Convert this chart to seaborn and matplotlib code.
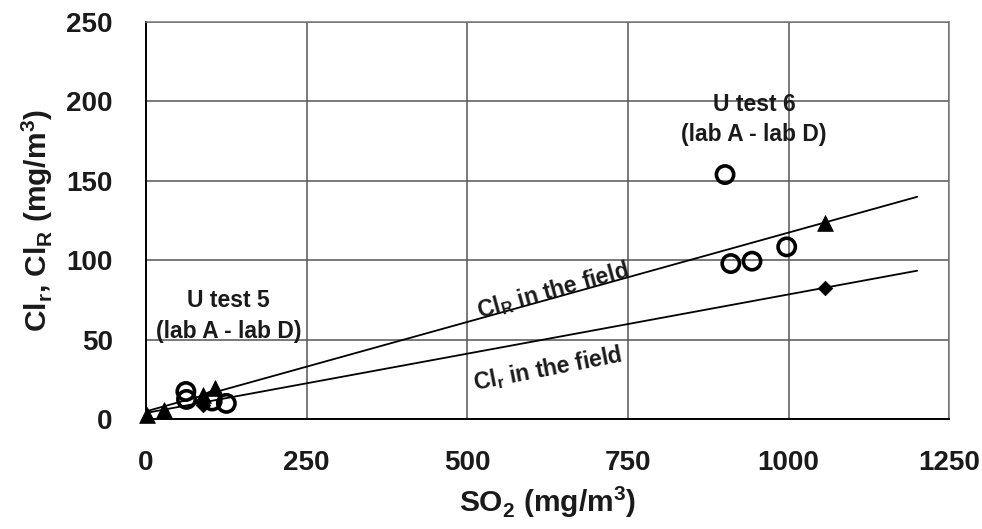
import matplotlib
matplotlib.use("Agg")
import matplotlib.pyplot as plt
import pandas as pd
import seaborn as sns

# open circles: lab A - lab D measurements
circ_x = [62, 63, 103, 125, 901, 910, 943, 997]
circ_y = [17.5, 12.5, 11.5, 10, 154, 98, 99.5, 108.5]
# filled triangles: Cl_R in the field
tri_x = [2, 28, 88, 107, 1056]
tri_y = [3, 6, 15, 19.5, 123.5]
# filled diamonds: Cl_r in the field
dia_x = [89, 1056]
dia_y = [9, 82.5]
# fitted lines
fit_x = [0, 1200]
fitR_y = [5, 140]
fitr_y = [4, 93.5]

xticks = [0, 250, 500, 750, 1000, 1250]
yticks = [0, 50, 100, 150, 200, 250]

sns.set_theme(style="white")
plt.rcParams['font.family'] = ['Liberation Sans', 'DejaVu Sans']
plt.rcParams['font.weight'] = 'bold'

fig = plt.figure(figsize=(9.82, 5.29), dpi=100)
ax = fig.add_axes([0.1487, 0.2074, 0.8180, 0.7510])

sns.lineplot(x=fit_x, y=fitR_y, ax=ax, color='black', linewidth=1.3, zorder=3)
sns.lineplot(x=fit_x, y=fitr_y, ax=ax, color='black', linewidth=1.3, zorder=3)

sns.scatterplot(x=tri_x, y=tri_y, ax=ax, marker='^', s=130, color='black',
                edgecolor='black', linewidth=0.5, zorder=4, clip_on=False)
sns.scatterplot(x=dia_x, y=dia_y, ax=ax, marker='D', s=55, color='black',
                edgecolor='black', linewidth=0.5, zorder=4, clip_on=False)
sns.scatterplot(x=circ_x, y=circ_y, ax=ax, marker='o', s=155, facecolor='none',
                edgecolor='black', linewidth=2.6, zorder=5, clip_on=False)

ax.set_xlim(0, 1250)
ax.set_ylim(0, 250)
ax.set_xticks(xticks)
ax.set_yticks(yticks)
ax.tick_params(axis='both', labelsize=20, length=12, width=1.2, color='#333333',
               direction='out')
ax.tick_params(axis='y', pad=12)
ax.tick_params(axis='x', pad=10)
for lab in ax.get_xticklabels() + ax.get_yticklabels():
    lab.set_fontweight('bold')
    lab.set_color('#1a1a1a')

ax.grid(True, color='#555555', linewidth=1.1)
ax.set_axisbelow(True)
for side in ['left', 'bottom']:
    ax.spines[side].set_color('black')
    ax.spines[side].set_linewidth(1.4)
for side in ['top', 'right']:
    ax.spines[side].set_color('#777777')
    ax.spines[side].set_linewidth(1.1)

ax.set_xlabel(r'SO$_\mathdefault{2}$ (mg/m$^\mathdefault{3}$)', fontsize=21.5,
              fontweight='bold', color='#1a1a1a', labelpad=6)
ax.set_ylabel(r'Cl$_\mathdefault{r}$, Cl$_\mathdefault{R}$ (mg/m$^\mathdefault{3}$)',
              fontsize=21.5, fontweight='bold', color='#1a1a1a', labelpad=8)

ax.text(946, 198, 'U test 6', ha='center', va='center', fontsize=16.5,
        fontweight='bold', color='#1a1a1a')
ax.text(946, 179, '(lab A - lab D)', ha='center', va='center', fontsize=16.5,
        fontweight='bold', color='#1a1a1a')
ax.text(128, 74.5, 'U test 5', ha='center', va='center', fontsize=16.5,
        fontweight='bold', color='#1a1a1a')
ax.text(128, 55.5, '(lab A - lab D)', ha='center', va='center', fontsize=16.5,
        fontweight='bold', color='#1a1a1a')

ax.text(633, 81, r'Cl$_\mathdefault{R}$ in the field', ha='center', va='center',
        fontsize=16.5, fontweight='bold', rotation=15.5, color='#1a1a1a')
ax.text(625, 32, r'Cl$_\mathdefault{r}$ in the field', ha='center', va='center',
        fontsize=16.5, fontweight='bold', rotation=11, color='#1a1a1a')

fig.savefig('out.png', dpi=100)
